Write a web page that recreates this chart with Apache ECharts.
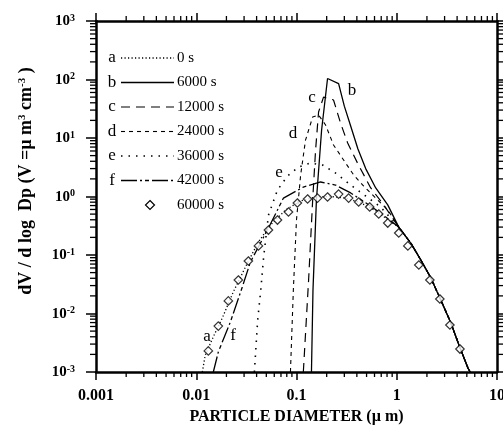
<!DOCTYPE html>
<html><head><meta charset="utf-8">
<script src="https://cdn.jsdelivr.net/npm/echarts@6/dist/echarts.min.js"></script>
<style>html,body{margin:0;padding:0;background:#fff}#c{width:503px;height:426px}</style>
</head><body><div id="c"></div>
<script>
// ---- tick labels ----
const xTickValues = [0.001, 0.01, 0.1, 1, 10];
const xTickLabels = ['0.001', '0.01', '0.1', '1', '10'];
const yTickExponents = [-3, -2, -1, 0, 1, 2, 3];
const minorMultipliers = [2, 3, 4, 5, 6, 7, 8, 9];

// ---- legend ----
const curveLetters = ['a', 'b', 'c', 'd', 'e', 'f', ''];
const seriesNames = ['0 s', '6000 s', '12000 s', '24000 s', '36000 s', '42000 s', '60000 s'];

// ---- data: [diameter (um), dV/dlogDp] ----
const tail = [[1.047,0.30],[1.38,0.16],[1.74,0.082],[2.19,0.0405],[2.75,0.017],[3.47,0.0069],[4.17,0.0029],[5.13,0.00117],[5.4,0.001]];
const curveA = [[0.0115,0.001],[0.0123,0.00195],[0.0148,0.004],[0.0182,0.0084],[0.0234,0.0233],[0.0324,0.073],[0.0417,0.167],[0.055,0.326],[0.078,0.59],[0.11,0.84],[0.155,0.98],[0.22,1.0],[0.31,0.94],[0.437,0.78],[0.617,0.57],[0.87,0.37]];
const curveB = [[0.141,0.001],[0.146,0.025],[0.158,0.87],[0.178,13.7],[0.204,104],[0.263,85],[0.30,35],[0.347,16],[0.41,6.5],[0.49,3.0],[0.617,1.4],[0.813,0.72]];
const curveC = [[0.117,0.001],[0.132,0.037],[0.145,0.87],[0.155,6.2],[0.166,27.8],[0.186,50],[0.234,44.7],[0.275,18],[0.324,8.2],[0.407,3.7],[0.55,1.4],[0.74,0.72]];
const curveD = [[0.087,0.001],[0.093,0.025],[0.1,0.4],[0.11,2.33],[0.123,9.2],[0.145,22.9],[0.166,24.7],[0.195,16.7],[0.234,7.6],[0.295,4.2],[0.372,2.33],[0.468,1.51],[0.617,0.94],[0.813,0.59]];
const curveE = [[0.038,0.001],[0.041,0.0077],[0.044,0.025],[0.047,0.092],[0.0525,0.48],[0.0646,1.29],[0.0813,2.24],[0.105,3.2],[0.138,3.74],[0.182,3.45],[0.245,2.52],[0.347,1.57],[0.49,1.02],[0.69,0.66]];
const curveF = [[0.0148,0.001],[0.0166,0.0022],[0.0219,0.00716],[0.0288,0.0284],[0.0347,0.0759],[0.0525,0.29],[0.0741,0.94],[0.117,1.45],[0.174,1.77],[0.245,1.57],[0.347,1.15],[0.49,0.78],[0.69,0.52]];
const points60000 = [[0.0132,0.00229],[0.0166,0.0061],[0.0209,0.0164],[0.0263,0.0374],[0.0331,0.0789],[0.0417,0.143],[0.0525,0.267],[0.0646,0.396],[0.0832,0.543],[0.102,0.774],[0.129,0.906],[0.162,0.94],[0.204,0.98],[0.263,1.10],[0.331,0.94],[0.417,0.805],[0.537,0.662],[0.661,0.502],[0.813,0.352],[1.047,0.238],[1.29,0.143],[1.66,0.0675],[2.14,0.0374],[2.69,0.0177],[3.39,0.00636],[4.27,0.00247]];

const curves = [curveA, curveB, curveC, curveD, curveE, curveF].map(c => c.concat(tail));

// ---- styles ----
const serif = '"Liberation Serif","DejaVu Serif",serif';
const lineStyles = [
  {type:[1.2,2.3], width:1.3},
  {type:'solid', width:1.3},
  {type:[9,6], width:1.2},
  {type:[4,4], width:1.1},
  {type:[1.5,6], width:1.6},
  {type:[16,3,2,3,4,3], width:1.3}
];

const xMin = 0.001, xMax = 10, yMin = 0.001, yMax = 1000;
const xMinor = [], yMinor = [];
for (let e = -3; e < 1; e++) minorMultipliers.forEach(m => xMinor.push([m * Math.pow(10, e)]));
for (let e = -3; e < 3; e++) minorMultipliers.forEach(m => yMinor.push([m * Math.pow(10, e)]));

function expOf(v){ return Math.round(Math.log10(v)); }

const axisLine = {lineStyle:{color:'#000', width:2.5}};
const axisTickX = {length:8, lineStyle:{color:'#000', width:1.5}};
const axisTickY = {length:10, lineStyle:{color:'#000', width:1.5}};
const richY = {
  b:{fontFamily:serif, fontWeight:'bold', fontSize:15, lineHeight:16, verticalAlign:'bottom', color:'#000'},
  s:{fontFamily:serif, fontWeight:'bold', fontSize:10, lineHeight:10, verticalAlign:'top', color:'#000'}
};

const series = [];
curves.forEach((c, i) => {
  series.push({
    type:'line', name: seriesNames[i], data:c, showSymbol:false, symbol:'none',
    lineStyle:{color:'#000', width:lineStyles[i].width, type:lineStyles[i].type},
    clip:true, z:3
  });
});
series.push({
  type:'scatter', name:seriesNames[6], data:points60000, symbol:'diamond', symbolSize:8.5,
  itemStyle:{color:'#fff', borderColor:'#000', borderWidth:1.2}, z:5
});
// minor ticks on log axes (drawn through axis scale)
series.push({
  type:'custom', silent:true, clip:false, z:10, data:xMinor,
  renderItem:(params, api) => {
    const v = api.value(0);
    const b = api.coord([v, yMin]), t = api.coord([v, yMax]);
    const st = {stroke:'#000', lineWidth:1.3};
    return {type:'group', children:[
      {type:'line', shape:{x1:b[0], y1:b[1], x2:b[0], y2:b[1]+5}, style:st},
      {type:'line', shape:{x1:t[0], y1:t[1], x2:t[0], y2:t[1]-5}, style:st}
    ]};
  }
});
series.push({
  type:'custom', silent:true, clip:false, z:10, data:yMinor.map(d => [xMin, d[0]]),
  renderItem:(params, api) => {
    const v = api.value(1);
    const l = api.coord([xMin, v]), r = api.coord([xMax, v]);
    const st = {stroke:'#000', lineWidth:1.3};
    return {type:'group', children:[
      {type:'line', shape:{x1:l[0], y1:l[1], x2:l[0]-6, y2:l[1]}, style:st},
      {type:'line', shape:{x1:r[0], y1:r[1], x2:r[0]+6, y2:r[1]}, style:st}
    ]};
  }
});

// legend graphics
const graphic = [];
const rowY0 = 58, rowStep = 24.5;
seriesNames.forEach((name, i) => {
  const y = rowY0 + i * rowStep;
  if (curveLetters[i]) {
    graphic.push({type:'text', x:112, y:y, style:{text:curveLetters[i], font:'17px '+serif, fill:'#000', align:'center', verticalAlign:'middle'}});
    graphic.push({type:'line', shape:{x1:121, y1:y, x2:174, y2:y}, style:{stroke:'#000', lineWidth:lineStyles[i].width, lineDash:lineStyles[i].type === 'solid' ? null : lineStyles[i].type}});
  } else {
    graphic.push({type:'polygon', shape:{points:[[150,y-4.5],[154.5,y],[150,y+4.5],[145.5,y]]}, style:{fill:'#fff', stroke:'#000', lineWidth:1.2}});
  }
  graphic.push({type:'text', x:177, y:y, style:{text:name, font:'15px '+serif, fill:'#000', align:'left', verticalAlign:'middle'}});
});
// curve annotations
const annotations = [['a',207,337],['f',233,336],['e',279,173],['d',293,134],['c',312,98],['b',352,91]];
annotations.forEach(a => graphic.push({type:'text', x:a[1], y:a[2], style:{text:a[0], font:'17px '+serif, fill:'#000', align:'center', verticalAlign:'middle'}}));
// y-axis title
graphic.push({type:'text', x:26, y:181, rotation:Math.PI/2, style:{
  text:'{n|dV / d log  Dp (V =µ m}{s|3}{n| cm}{s|-3}{n| )}',
  align:'center', verticalAlign:'middle',
  rich:{
    n:{fontFamily:serif, fontWeight:'bold', fontSize:18, lineHeight:19, verticalAlign:'bottom', fill:'#000', color:'#000'},
    s:{fontFamily:serif, fontWeight:'bold', fontSize:11, lineHeight:11, verticalAlign:'top', fill:'#000', color:'#000'}
  }
}});

const option = {
  animation:false,
  backgroundColor:'#fff',
  grid:{left:96, right:6, top:21, bottom:54, containLabel:false, outerBoundsMode:'none'},
  xAxis:[
    {type:'log', logBase:10, min:xMin, max:xMax, position:'bottom',
     axisLine:axisLine, axisTick:axisTickX, splitLine:{show:false},
     axisLabel:{margin:16, showMaxLabel:true, showMinLabel:true, color:'#000', fontFamily:serif, fontWeight:'bold', fontSize:16,
       formatter:v => xTickLabels[xTickValues.findIndex(t => Math.abs(Math.log10(t) - Math.log10(v)) < 1e-6)] || ''},
     name:'PARTICLE DIAMETER (µ m)', nameLocation:'middle', nameGap:34,
     nameTextStyle:{color:'#000', fontFamily:serif, fontWeight:'bold', fontSize:16}},
    {type:'log', logBase:10, min:xMin, max:xMax, position:'top',
     axisLine:axisLine, axisTick:axisTickX, splitLine:{show:false}, axisLabel:{show:false}}
  ],
  yAxis:[
    {type:'log', logBase:10, min:yMin, max:yMax, splitNumber:6, position:'left',
     axisLine:axisLine, axisTick:axisTickY, splitLine:{show:false},
     axisLabel:{margin:21, showMaxLabel:true, showMinLabel:true, rich:richY,
       formatter:v => { const e = expOf(v); return yTickExponents.includes(e) ? '{b|10}{s|' + e + '}' : ''; }}},
    {type:'log', logBase:10, min:yMin, max:yMax, splitNumber:6, position:'right',
     axisLine:axisLine, axisTick:axisTickY, splitLine:{show:false}, axisLabel:{show:false}}
  ],
  series:series,
  graphic:graphic
};
const chart = echarts.init(document.getElementById('c'), null, {renderer:'canvas'});
chart.setOption(option);
</script>
</body></html>
